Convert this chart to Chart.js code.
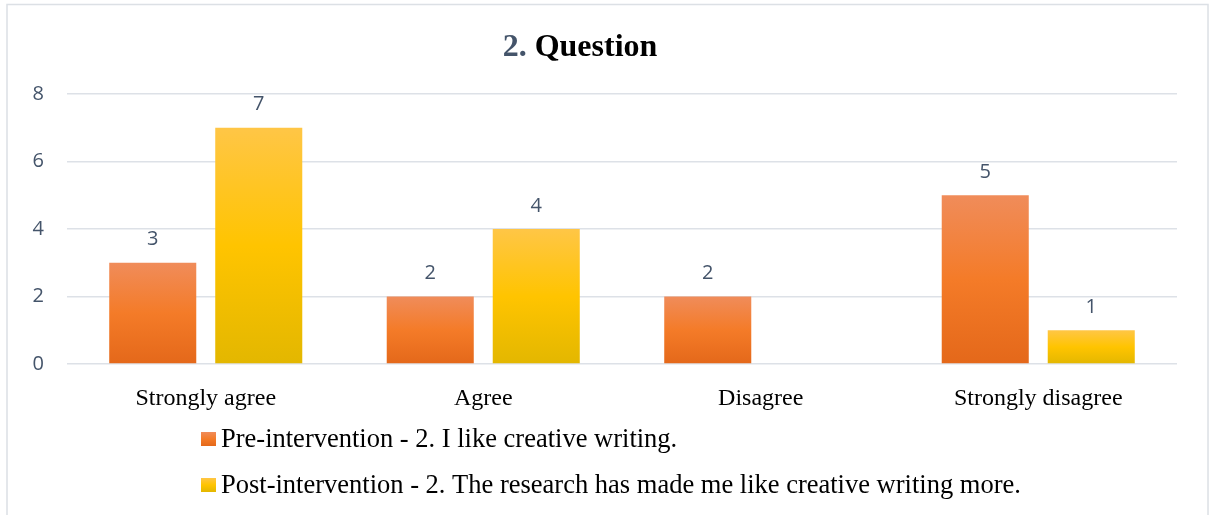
<!DOCTYPE html>
<html>
<head>
<meta charset="utf-8">
<script src="https://cdn.jsdelivr.net/npm/chart.js@4/dist/chart.umd.min.js"></script>
<style>
  html, body { margin: 0; padding: 0; background: #fff; }
  #wrap { position: relative; width: 1210px; height: 515px; }
</style>
</head>
<body>
<div id="wrap"><canvas id="bars"></canvas></div>
<script>
const categories = ['Strongly agree', 'Agree', 'Disagree', 'Strongly disagree'];
const preValues = [3, 2, 2, 5];
const postValues = [7, 4, null, 1];
const seriesNames = [
  'Pre-intervention - 2. I like creative writing.',
  'Post-intervention - 2. The research has made me like creative writing more.'
];
const titleNumber = '2.';
const titleText = ' Question';

// light top -> main -> darker bottom, like the office preset fill
const orangeStops = ['#F08C5A', '#F47B28', '#E4681A'];
const yellowStops = ['#FFC646', '#FFC400', '#E3B700'];
const slate = '#44546A';
const gridColor = '#DDE1E7';
const serif = '"Liberation Serif", "Times New Roman", serif';
const sans = '"Open Sans", "Noto Sans", sans-serif';

function vGradient(ctx, top, bottom, stops) {
  const g = ctx.createLinearGradient(0, top, 0, bottom);
  g.addColorStop(0, stops[0]);
  g.addColorStop(0.5, stops[1]);
  g.addColorStop(1, stops[2]);
  return g;
}

function barFill(stops) {
  return function (c) {
    if (c.type !== 'data' || c.raw == null) return stops[1];
    const y = c.chart.scales.y;
    const top = y.getPixelForValue(c.raw);
    const bottom = y.getPixelForValue(0);
    if (!isFinite(top) || bottom - top < 1) return stops[1];
    return vGradient(c.chart.ctx, top, bottom, stops);
  };
}

const frameAndTitle = {
  id: 'frameAndTitle',
  beforeDraw(chart) {
    const ctx = chart.ctx;
    ctx.save();
    ctx.fillStyle = '#fff';
    ctx.fillRect(0, 0, chart.width, chart.height);
    ctx.strokeStyle = '#DCE0E5';
    ctx.lineWidth = 1.5;
    ctx.strokeRect(7, 4.5, 1201, 600);
    ctx.restore();
  },
  afterDraw(chart) {
    const ctx = chart.ctx;
    ctx.save();
    ctx.font = 'bold 32px ' + serif;
    ctx.textBaseline = 'alphabetic';
    const w1 = ctx.measureText(titleNumber).width;
    const w2 = ctx.measureText(titleText).width;
    let x = 580 - (w1 + w2) / 2;
    ctx.fillStyle = slate;
    ctx.fillText(titleNumber, x, 56);
    ctx.fillStyle = '#000';
    ctx.fillText(titleText, x + w1, 56);

    // legend, one series per row
    const rows = [439, 485];
    ctx.font = '26.5px ' + serif;
    chart.data.datasets.forEach((ds, i) => {
      const cy = rows[i];
      ctx.fillStyle = vGradient(ctx, cy - 7, cy + 7, ds.stops);
      ctx.fillRect(201, cy - 7, 15, 14);
      ctx.fillStyle = '#000';
      ctx.fillText(ds.label, 221, cy + 8);
    });
    ctx.restore();
  }
};

const valueLabels = {
  id: 'valueLabels',
  afterDatasetsDraw(chart) {
    const ctx = chart.ctx;
    ctx.save();
    ctx.font = '20px ' + sans;
    ctx.fillStyle = slate;
    ctx.textAlign = 'center';
    ctx.textBaseline = 'middle';
    chart.data.datasets.forEach((ds, i) => {
      chart.getDatasetMeta(i).data.forEach((bar, j) => {
        const v = ds.data[j];
        if (v == null) return;
        ctx.fillText(String(v), bar.x, bar.y - 23);
      });
    });
    ctx.restore();
  }
};

new Chart(document.getElementById('bars'), {
  type: 'bar',
  data: {
    labels: categories,
    datasets: [
      { label: seriesNames[0], data: preValues, stops: orangeStops, backgroundColor: barFill(orangeStops) },
      { label: seriesNames[1], data: postValues, stops: yellowStops, backgroundColor: barFill(yellowStops) }
    ]
  },
  options: {
    responsive: true,
    maintainAspectRatio: false,
    animation: false,
    categoryPercentage: 0.764,
    barPercentage: 0.821,
    layout: { padding: { top: 94, right: 33, bottom: 96, left: 0 } },
    plugins: {
      legend: { display: false },
      title: { display: false },
      tooltip: { enabled: false }
    },
    scales: {
      x: {
        grid: { display: false },
        border: { display: false },
        ticks: { color: '#000', font: { family: serif, size: 24 }, padding: 12, maxRotation: 0 },
        afterFit(s) { s.height = 55; }
      },
      y: {
        min: 0,
        max: 8,
        ticks: { stepSize: 2, color: slate, font: { family: sans, size: 20 }, padding: 23 },
        grid: { color: gridColor, lineWidth: 1.5, drawTicks: false },
        border: { display: false },
        afterFit(s) { s.width = 67; }
      }
    }
  },
  plugins: [frameAndTitle, valueLabels]
});
</script>
</body>
</html>
